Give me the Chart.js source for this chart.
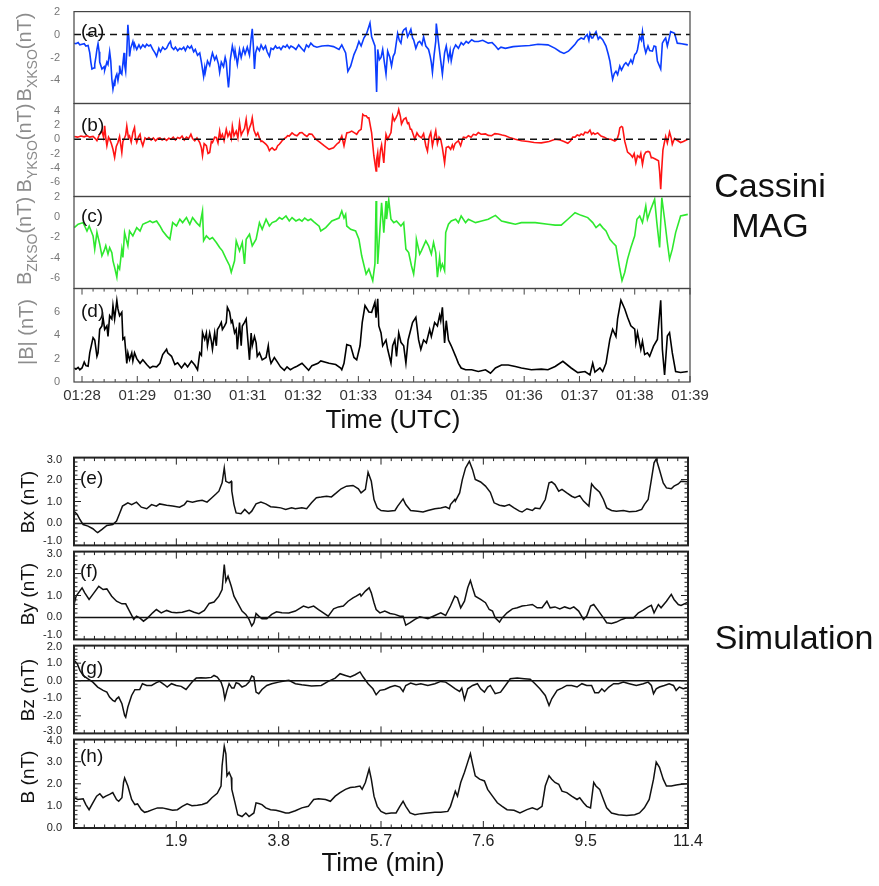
<!DOCTYPE html>
<html lang="en">
<head>
<meta charset="UTF-8">
<title>Cassini MAG vs Simulation</title>
<script src="https://cdn.jsdelivr.net/npm/chart.js@4.4.1/dist/chart.umd.js"></script>
<style>
  body { margin: 0; background: #fff; font-family: 'Liberation Sans', Arial, Helvetica, sans-serif; }
  #page { position: relative; width: 879px; height: 886px; overflow: hidden; }
  canvas { position: absolute; left: 0; }
  .lab { position: absolute; white-space: nowrap; line-height: 1; }
  .ylab { transform: translate(-50%, -50%) rotate(-90deg); font-size: 20px; }
  .ylab.top { color: #8c8c8c; }
  .ylab.sim { color: #111; font-size: 19px; }
  .ylab sub { font-size: 14px; vertical-align: -6px; line-height: 0; }
  .tag { font-size: 19px; color: #111; transform: translateY(-50%); }
  .big { font-size: 34px; color: #111; transform: translate(-50%, -50%); text-align: center; line-height: 40px; }
  .xt { font-size: 26px; color: #111; transform: translate(-50%, -50%); }
</style>
</head>
<body>
<div id="page">
  <canvas id="pa" width="720" height="112"></canvas>
  <canvas id="pb" width="720" height="113"></canvas>
  <canvas id="pc" width="720" height="112"></canvas>
  <canvas id="pd" width="720" height="143"></canvas>
  <canvas id="pe" width="720" height="108"></canvas>
  <canvas id="pf" width="720" height="108"></canvas>
  <canvas id="pg" width="720" height="108"></canvas>
  <canvas id="ph" width="720" height="138"></canvas>

  <div class="lab ylab top" style="left:24px;top:57px">B<sub>XKSO</sub>(nT)</div>
  <div class="lab ylab top" style="left:24px;top:148px">B<sub>YKSO</sub>(nT)</div>
  <div class="lab ylab top" style="left:24px;top:241px">B<sub>ZKSO</sub>(nT)</div>
  <div class="lab ylab top" style="left:26px;top:332px">|B| (nT)</div>
  <div class="lab ylab sim" style="left:27px;top:502px">Bx (nT)</div>
  <div class="lab ylab sim" style="left:27px;top:594px">By (nT)</div>
  <div class="lab ylab sim" style="left:27px;top:690px">Bz (nT)</div>
  <div class="lab ylab sim" style="left:27px;top:777px">B (nT)</div>

  <div class="lab tag" style="left:81px;top:30px">(a)</div>
  <div class="lab tag" style="left:81px;top:124px">(b)</div>
  <div class="lab tag" style="left:81px;top:215px">(c)</div>
  <div class="lab tag" style="left:81px;top:310px">(d)</div>
  <div class="lab tag" style="left:80px;top:477px">(e)</div>
  <div class="lab tag" style="left:80px;top:570px">(f)</div>
  <div class="lab tag" style="left:80px;top:667px">(g)</div>
  <div class="lab tag" style="left:80px;top:755px">(h)</div>

  <div class="lab big" style="left:770px;top:205px">Cassini<br>MAG</div>
  <div class="lab big" style="left:794px;top:637px">Simulation</div>
  <div class="lab xt" style="left:393px;top:419px">Time (UTC)</div>
  <div class="lab xt" style="left:383px;top:862px">Time (min)</div>
</div>

<script>
// Cassini MAG: time in minutes after 01:28 UTC, field in nT
const timeTicks = [0, 1, 2, 3, 4, 5, 6, 7, 8, 9, 10, 11];
const timeLabels = ['01:28', '01:29', '01:30', '01:31', '01:32', '01:33', '01:34', '01:35', '01:36', '01:37', '01:38', '01:39'];

const bxKso = [[-0.14,-0.75],[-0.11,-0.8],[-0.07,-0.7],[-0.04,-0.9],[0,-0.85],[0.04,-0.8],[0.07,-1.0],[0.11,-0.95],[0.14,-1.6],[0.16,-2.4],[0.18,-3.0],[0.22,-2.9],[0.23,-2.6],[0.25,-2.0],[0.27,-1.3],[0.29,-0.8],[0.31,-1.5],[0.32,-2.4],[0.36,-3.0],[0.40,-2.8],[0.41,-3.1],[0.45,-2.4],[0.47,-2.6],[0.50,-1.5],[0.52,-2.3],[0.54,-3.9],[0.56,-4.75],[0.58,-4.2],[0.59,-4.5],[0.61,-3.7],[0.63,-3.45],[0.65,-4.0],[0.67,-3.4],[0.68,-2.7],[0.70,-3.3],[0.72,-3.45],[0.74,-2.5],[0.76,-1.6],[0.77,-2.6],[0.79,-3.2],[0.81,-1.5],[0.83,0.85],[0.85,-0.5],[0.86,-1.9],[0.88,-1.2],[0.92,-0.6],[0.94,-1.1],[0.95,-0.8],[0.99,-1.3],[1.03,-0.9],[1.06,-1.2],[1.10,-0.9],[1.14,-1.1],[1.17,-0.85],[1.21,-1.0],[1.24,-0.9],[1.28,-1.3],[1.32,-1.6],[1.35,-1.9],[1.39,-1.2],[1.42,-1.5],[1.46,-1.1],[1.50,-1.3],[1.53,-1.2],[1.57,-0.8],[1.60,-0.6],[1.62,-1.1],[1.66,-1.3],[1.69,-1.1],[1.73,-1.4],[1.77,-1.2],[1.80,-1.3],[1.84,-1.1],[1.87,-1.4],[1.91,-1.0],[1.95,-1.2],[1.98,-1.0],[2.02,-1.5],[2.05,-1.3],[2.09,-1.8],[2.13,-1.6],[2.16,-2.4],[2.20,-3.65],[2.22,-2.9],[2.23,-3.3],[2.27,-2.3],[2.31,-2.7],[2.34,-2.0],[2.36,-1.6],[2.40,-2.2],[2.43,-1.9],[2.47,-2.6],[2.49,-3.3],[2.52,-2.4],[2.56,-2.8],[2.59,-2.0],[2.61,-2.4],[2.63,-3.6],[2.65,-4.6],[2.67,-3.5],[2.68,-2.3],[2.72,-1.0],[2.76,-1.9],[2.77,-1.4],[2.81,-2.6],[2.85,-1.3],[2.88,-2.0],[2.92,-1.2],[2.95,-1.7],[2.99,-1.1],[3.03,-1.8],[3.06,-0.3],[3.08,0.5],[3.10,-1.0],[3.12,-3.0],[3.14,-1.6],[3.17,-1.1],[3.21,-1.4],[3.24,-0.9],[3.28,-1.3],[3.32,-1.0],[3.35,-1.5],[3.39,-1.9],[3.42,-1.2],[3.46,-1.3],[3.50,-1.0],[3.53,-1.2],[3.57,-1.1],[3.60,-1.3],[3.64,-1.0],[3.68,-1.1],[3.71,-0.9],[3.75,-1.2],[3.78,-1.0],[3.82,-1.1],[3.87,-1.3],[3.92,-0.9],[3.97,-1.2],[4.02,-1.45],[4.06,-0.9],[4.10,-1.1],[4.14,-0.75],[4.19,-1.0],[4.25,-1.1],[4.34,-1.0],[4.45,-0.95],[4.55,-1.05],[4.65,-1.3],[4.70,-0.9],[4.77,-1.6],[4.81,-3.2],[4.86,-2.75],[4.92,-1.75],[4.97,-1.2],[5.01,-0.6],[5.05,-1.0],[5.10,-0.3],[5.15,0.1],[5.21,1.0],[5.24,-0.2],[5.30,-1.0],[5.33,-5.0],[5.35,-1.3],[5.38,-2.2],[5.41,-2.0],[5.44,-1.3],[5.47,-2.4],[5.50,-3.45],[5.53,-1.45],[5.57,-2.0],[5.60,-2.75],[5.63,-1.9],[5.66,-1.6],[5.71,0.1],[5.74,-0.5],[5.77,-0.75],[5.80,0.2],[5.82,0.4],[5.86,0.55],[5.89,-0.2],[5.92,0.1],[5.95,0.45],[5.98,-0.3],[6.00,-0.45],[6.04,-1.2],[6.08,-0.7],[6.11,-0.6],[6.15,-0.9],[6.18,-0.2],[6.22,-1.0],[6.27,-1.3],[6.30,-1.9],[6.32,-2.45],[6.34,-3.3],[6.37,-1.8],[6.40,-0.6],[6.41,0.95],[6.45,-0.7],[6.49,-2.3],[6.52,-3.45],[6.56,-1.6],[6.59,-1.0],[6.63,-2.2],[6.66,-1.4],[6.68,-2.3],[6.72,-1.3],[6.76,-0.9],[6.81,-1.2],[6.86,-0.7],[6.90,-0.9],[6.95,-0.6],[6.99,-0.75],[7.05,-0.45],[7.10,-0.6],[7.17,-0.6],[7.25,-0.5],[7.35,-0.75],[7.42,-0.7],[7.48,-1.0],[7.53,-1.3],[7.58,-1.1],[7.66,-1.2],[7.80,-1.05],[7.95,-1.0],[8.10,-0.95],[8.25,-0.85],[8.43,-0.9],[8.56,-1.2],[8.65,-1.5],[8.72,-1.65],[8.80,-1.45],[8.85,-1.2],[8.92,-0.85],[8.97,-0.5],[9.03,-0.3],[9.08,-0.4],[9.10,-0.2],[9.14,0.0],[9.17,-0.5],[9.19,0.1],[9.22,-0.3],[9.24,-0.3],[9.27,0.0],[9.30,0.25],[9.34,-0.4],[9.37,-0.2],[9.42,-0.45],[9.48,-1.0],[9.52,-1.7],[9.55,-2.3],[9.58,-3.3],[9.60,-3.9],[9.63,-3.4],[9.66,-3.2],[9.69,-3.5],[9.73,-2.75],[9.76,-3.1],[9.78,-2.9],[9.81,-2.6],[9.84,-2.45],[9.88,-2.7],[9.93,-2.2],[9.96,-2.5],[10.0,-1.75],[10.03,-1.6],[10.05,-1.3],[10.09,-0.2],[10.12,-0.5],[10.14,0.25],[10.17,-1.0],[10.20,-1.6],[10.24,-1.0],[10.27,-1.4],[10.32,-1.45],[10.35,-1.0],[10.38,-1.05],[10.41,-2.3],[10.47,-3.0],[10.50,-0.75],[10.53,-0.5],[10.56,-0.3],[10.59,-1.0],[10.62,-0.4],[10.65,0.25],[10.70,0.15],[10.72,0.1],[10.77,-0.75],[10.85,-0.8],[10.96,-0.9]];

const byKso = [[-0.14,0.4],[-0.08,0.3],[-0.02,0.45],[0.04,0.35],[0.09,0.5],[0.14,0.3],[0.2,0.4],[0.24,0.1],[0.27,-0.2],[0.31,0.6],[0.36,1.2],[0.39,0.3],[0.41,1.9],[0.43,0.2],[0.45,-0.9],[0.48,0.3],[0.50,0],[0.53,-0.6],[0.56,-1.4],[0.59,-2.55],[0.62,-1.0],[0.65,-0.45],[0.68,0.4],[0.72,-1.85],[0.74,-0.3],[0.76,0],[0.79,0.6],[0.81,1.85],[0.84,0.2],[0.86,0.45],[0.89,-0.4],[0.92,0.95],[0.95,1.65],[0.97,0.1],[0.99,-0.45],[1.02,0.3],[1.05,0.7],[1.07,-0.2],[1.10,-0.9],[1.14,0.2],[1.17,0],[1.21,0.25],[1.25,-0.1],[1.29,0.2],[1.33,-0.2],[1.37,0.1],[1.41,0.2],[1.45,-0.1],[1.49,0.1],[1.53,-0.15],[1.57,0.15],[1.61,0],[1.65,0.3],[1.69,-0.1],[1.73,0.25],[1.77,0.1],[1.81,0.45],[1.85,-0.1],[1.89,0.3],[1.93,0.1],[1.97,0.7],[2.0,0.1],[2.04,-0.2],[2.08,0.2],[2.13,-0.45],[2.16,-1.2],[2.18,-2.3],[2.21,-0.6],[2.25,-0.9],[2.28,-2.0],[2.31,-1.85],[2.34,-0.3],[2.36,-0.45],[2.40,0.3],[2.43,0.25],[2.46,-0.5],[2.49,1.15],[2.51,0.2],[2.54,0.7],[2.57,-0.2],[2.61,1.4],[2.64,0.4],[2.67,0.95],[2.70,0.1],[2.72,1.85],[2.75,0.5],[2.79,1.15],[2.82,0.2],[2.85,2.3],[2.88,0.6],[2.90,0.95],[2.94,1.5],[2.97,2.8],[3.0,0.8],[3.03,1.6],[3.06,2.2],[3.08,3.0],[3.11,1.3],[3.15,0.5],[3.18,0.9],[3.21,0.2],[3.24,-0.3],[3.26,-0.25],[3.30,-0.5],[3.33,-0.7],[3.36,-1.0],[3.39,-1.6],[3.42,-1.3],[3.44,-1.2],[3.48,-1.5],[3.51,-1.4],[3.54,-0.9],[3.57,-0.7],[3.60,-0.4],[3.62,-0.2],[3.66,0.1],[3.69,0.25],[3.72,0.5],[3.75,0.45],[3.80,0.9],[3.85,0.6],[3.89,0.5],[3.94,0.9],[3.98,0.95],[4.03,0.6],[4.07,0.4],[4.11,0.75],[4.16,0.7],[4.20,0.3],[4.23,0],[4.30,-0.4],[4.38,-0.9],[4.47,-1.4],[4.55,-1.2],[4.62,-0.6],[4.65,-0.45],[4.70,0.45],[4.74,-0.9],[4.79,0.9],[4.84,1.0],[4.88,1.15],[4.93,0.9],[4.97,0.7],[5.01,1.2],[5.05,1.4],[5.08,3.5],[5.11,3.3],[5.14,3.3],[5.17,3.0],[5.19,3.0],[5.24,0.9],[5.28,-2.3],[5.32,-4.45],[5.33,-2.8],[5.35,-1.9],[5.37,-3.95],[5.40,-1.5],[5.42,-0.8],[5.46,-3.3],[5.48,-1.0],[5.50,0.7],[5.53,0],[5.59,0.95],[5.62,3.3],[5.65,2.6],[5.68,3.0],[5.71,3.5],[5.73,4.15],[5.76,3.2],[5.78,2.15],[5.82,2.8],[5.86,3.0],[5.89,2.2],[5.91,2.3],[5.94,1.4],[5.96,1.4],[6.0,0.5],[6.02,0],[6.06,0.9],[6.09,0.5],[6.14,0.2],[6.18,0.8],[6.22,-0.9],[6.25,-1.65],[6.28,0.3],[6.31,0.95],[6.34,-0.9],[6.37,0.2],[6.40,1.2],[6.43,-0.6],[6.46,0.3],[6.49,0],[6.52,-1.2],[6.56,-3.3],[6.59,-1.15],[6.63,-1.0],[6.67,-1.4],[6.70,-0.8],[6.72,-1.3],[6.75,-0.6],[6.77,-0.45],[6.81,-0.2],[6.85,-0.9],[6.88,-0.1],[6.90,0.3],[6.95,0.2],[6.99,0.5],[7.04,0.3],[7.08,0.7],[7.13,0.6],[7.17,0.95],[7.22,0.7],[7.30,0.75],[7.35,0.55],[7.41,0.5],[7.47,0.8],[7.53,0.75],[7.60,0.6],[7.66,0.5],[7.75,0.2],[7.84,0],[7.95,-0.2],[8.07,-0.3],[8.18,-0.45],[8.31,-0.5],[8.45,-0.3],[8.56,0],[8.65,-0.1],[8.72,-0.3],[8.79,-0.55],[8.84,-0.2],[8.88,0.3],[8.92,0.3],[8.96,0.6],[9.0,0.5],[9.03,0.75],[9.07,0.6],[9.10,1.0],[9.15,0.9],[9.19,1.3],[9.22,0.7],[9.25,0.9],[9.28,0.7],[9.33,0.9],[9.39,0.45],[9.45,0.3],[9.51,0],[9.57,0],[9.64,-0.25],[9.68,0],[9.71,0.7],[9.73,1.6],[9.76,1.8],[9.78,1.7],[9.82,-0.3],[9.87,-1.8],[9.92,-2.1],[9.96,-2.5],[9.99,-2.0],[10.02,-3.3],[10.05,-2.3],[10.09,-2.55],[10.11,-2.0],[10.14,-3.5],[10.17,-2.2],[10.20,-1.8],[10.24,-1.7],[10.27,-1.8],[10.30,-2.6],[10.32,-2.55],[10.38,-2.8],[10.43,-3.0],[10.45,-4.5],[10.47,-7.0],[10.49,-4.0],[10.51,-1.5],[10.53,-0.7],[10.56,0.4],[10.59,-0.5],[10.63,1.0],[10.66,0.2],[10.68,-0.7],[10.72,0.1],[10.74,0],[10.78,-0.2],[10.83,-0.45],[10.88,-0.3],[10.96,0]];

const bzKso = [[-0.14,-1.04],[-0.07,-0.7],[0.02,-0.55],[0.09,-1.37],[0.13,-0.88],[0.2,-1.85],[0.23,-3.15],[0.27,-1.5],[0.32,-2.66],[0.36,-3.8],[0.40,-3.3],[0.43,-2.8],[0.47,-3.64],[0.50,-3.0],[0.54,-3.5],[0.56,-4.3],[0.59,-4.94],[0.63,-5.91],[0.65,-4.78],[0.68,-5.1],[0.72,-3.15],[0.74,-3.96],[0.77,-1.53],[0.83,-2.83],[0.86,-1.37],[0.92,-1.85],[0.99,-1.04],[1.05,-1.37],[1.10,-0.71],[1.17,-0.55],[1.23,-0.39],[1.28,-0.55],[1.35,-0.39],[1.41,-0.88],[1.46,-1.37],[1.53,-1.85],[1.59,-2.18],[1.64,-0.55],[1.71,-0.88],[1.77,-0.22],[1.82,-0.55],[1.89,-0.06],[1.95,-0.71],[2.0,-0.06],[2.07,-0.55],[2.13,-0.88],[2.18,0.59],[2.20,-2.33],[2.25,-1.85],[2.31,-2.18],[2.36,-2.01],[2.43,-2.5],[2.49,-2.99],[2.54,-3.32],[2.61,-4.13],[2.67,-4.78],[2.70,-5.42],[2.76,-4.29],[2.79,-2.34],[2.85,-3.32],[2.90,-2.5],[2.94,-4.61],[2.97,-2.18],[3.03,-1.69],[3.08,-2.83],[3.15,-2.18],[3.21,-0.55],[3.26,-1.2],[3.33,-0.22],[3.39,-0.88],[3.44,-0.55],[3.51,-0.39],[3.57,-0.06],[3.62,-0.22],[3.69,0.1],[3.75,-0.39],[3.80,-0.06],[3.87,-0.39],[3.93,-0.22],[3.98,-0.4],[4.03,-0.1],[4.09,-0.35],[4.14,-0.2],[4.19,-0.45],[4.29,-0.9],[4.32,-1.37],[4.41,-1.04],[4.52,-0.39],[4.65,-0.1],[4.70,0.59],[4.74,-0.1],[4.77,0.26],[4.79,-0.88],[4.86,-1.2],[4.95,-1.37],[5.01,-2.18],[5.06,-3.8],[5.14,-5.6],[5.19,-5.1],[5.23,-5.75],[5.26,-6.24],[5.30,-4.6],[5.32,1.56],[5.33,-0.55],[5.35,-4.6],[5.39,-1.2],[5.42,1.4],[5.46,-1.53],[5.50,1.56],[5.51,-0.2],[5.55,1.66],[5.59,-0.22],[5.64,-0.55],[5.69,-0.39],[5.77,-0.88],[5.82,-0.55],[5.86,-3.15],[5.91,-3.48],[5.96,-4.78],[6.0,-5.59],[6.04,-3.8],[6.05,-2.18],[6.11,-3.64],[6.14,-3.32],[6.22,-2.34],[6.27,-2.83],[6.32,-3.64],[6.36,-2.5],[6.40,-3.48],[6.43,-5.91],[6.47,-3.96],[6.49,-5.1],[6.52,-4.61],[6.56,-5.27],[6.58,-1.53],[6.63,-0.71],[6.68,-0.39],[6.76,-0.22],[6.81,-0.55],[6.86,0.1],[6.94,-0.55],[6.99,-0.22],[7.12,-0.55],[7.23,-0.39],[7.35,-0.22],[7.48,0.16],[7.59,-0.39],[7.71,-0.55],[7.84,-0.71],[7.95,-0.55],[8.20,-0.55],[8.43,-0.71],[8.56,-0.8],[8.67,-0.8],[8.79,-0.22],[8.92,0.42],[9.03,0.16],[9.15,-0.06],[9.24,-0.55],[9.30,-1.04],[9.37,-0.71],[9.42,-1.04],[9.48,-1.37],[9.55,-2.18],[9.60,-2.5],[9.66,-2.83],[9.73,-5.1],[9.77,-6.24],[9.82,-5.42],[9.87,-4.13],[9.93,-2.99],[10.0,-1.85],[10.04,-0.22],[10.09,0.1],[10.14,-0.55],[10.20,1.07],[10.23,-0.22],[10.29,0.75],[10.36,1.73],[10.40,-0.55],[10.45,-2.99],[10.49,1.89],[10.54,-0.22],[10.59,-2.5],[10.63,-4.13],[10.68,-3.15],[10.74,-1.53],[10.83,0.1],[10.96,0.26]];

const bMag = [[-0.14,1.2],[-0.11,1.1],[-0.07,1.25],[-0.04,1.05],[0,1.2],[0.04,1.7],[0.07,1.4],[0.11,1.35],[0.14,2.49],[0.2,3.8],[0.23,3.6],[0.27,2.2],[0.29,2.5],[0.32,4.52],[0.36,4.8],[0.38,5.54],[0.41,4.5],[0.45,4.8],[0.47,3.9],[0.50,5.68],[0.54,5.4],[0.56,6.55],[0.59,5.4],[0.63,6.99],[0.65,6.26],[0.68,5.68],[0.72,5.97],[0.74,3.65],[0.77,3.8],[0.81,1.6],[0.83,2.5],[0.86,1.9],[0.90,2.5],[0.92,1.8],[0.95,2.5],[0.99,2.0],[1.05,1.6],[1.10,1.9],[1.17,1.5],[1.23,1.2],[1.28,1.35],[1.35,1.3],[1.41,1.6],[1.46,2.35],[1.53,2.8],[1.55,2.5],[1.62,2.2],[1.68,1.5],[1.73,1.65],[1.80,1.2],[1.86,1.6],[1.91,1.3],[1.98,1.8],[2.04,1.45],[2.09,1.05],[2.13,2.5],[2.16,2.3],[2.18,4.25],[2.22,3.65],[2.25,4.2],[2.27,3.1],[2.31,4.2],[2.34,3.5],[2.36,2.8],[2.40,4.2],[2.43,3.1],[2.45,4.5],[2.49,4.8],[2.52,5.1],[2.54,4.5],[2.58,4.8],[2.61,5.1],[2.63,6.4],[2.67,6.0],[2.70,5.1],[2.72,5.25],[2.76,4.2],[2.79,4.5],[2.81,2.8],[2.85,5.1],[2.88,3.1],[2.90,4.8],[2.94,5.1],[2.97,5.4],[2.99,4.2],[3.03,1.9],[3.06,4.2],[3.08,3.1],[3.12,3.9],[3.15,3.35],[3.17,2.2],[3.21,2.5],[3.26,1.9],[3.33,2.1],[3.37,3.1],[3.39,2.2],[3.42,1.6],[3.48,2.1],[3.53,1.75],[3.59,1.3],[3.66,1.0],[3.71,1.3],[3.77,1.05],[3.84,1.25],[3.89,1.35],[3.98,1.6],[4.10,1.0],[4.16,1.4],[4.27,1.6],[4.32,1.8],[4.47,1.6],[4.59,1.5],[4.68,1.2],[4.70,1.05],[4.74,1.6],[4.79,3.2],[4.86,3.1],[4.92,2.1],[4.97,1.9],[5.03,3.1],[5.07,5.1],[5.12,6.55],[5.19,6.0],[5.24,5.97],[5.30,6.84],[5.32,5.5],[5.35,7.13],[5.37,4.8],[5.41,4.2],[5.44,3.1],[5.50,3.6],[5.53,2.8],[5.59,1.62],[5.62,3.1],[5.66,3.6],[5.69,2.2],[5.73,4.2],[5.77,3.4],[5.82,3.1],[5.86,1.62],[5.90,3.6],[5.98,5.1],[6.04,5.54],[6.09,3.6],[6.13,2.8],[6.18,3.6],[6.23,3.35],[6.29,4.5],[6.32,3.9],[6.38,5.1],[6.43,4.8],[6.47,5.7],[6.49,5.25],[6.52,6.4],[6.56,3.35],[6.59,5.25],[6.63,3.6],[6.68,3.1],[6.76,2.2],[6.81,1.6],[6.86,1.2],[6.94,1.05],[7.05,1.05],[7.17,0.9],[7.30,1.05],[7.39,0.75],[7.48,1.2],[7.59,1.45],[7.71,1.45],[7.84,1.33],[7.95,1.2],[8.13,1.05],[8.31,1.1],[8.43,1.05],[8.56,1.33],[8.70,1.77],[8.85,1.2],[8.97,0.8],[9.10,0.9],[9.19,0.6],[9.24,1.62],[9.28,0.85],[9.37,1.2],[9.42,0.9],[9.48,1.6],[9.55,3.65],[9.60,4.52],[9.66,3.9],[9.69,5.4],[9.75,7.0],[9.82,6.26],[9.87,5.54],[9.93,4.81],[10.0,4.52],[10.02,3.36],[10.05,4.23],[10.11,2.78],[10.14,3.5],[10.18,2.35],[10.23,2.49],[10.27,2.2],[10.34,3.07],[10.41,3.65],[10.47,7.0],[10.50,2.8],[10.54,0.6],[10.59,3.94],[10.63,4.23],[10.68,2.49],[10.74,0.9],[10.83,0.81],[10.96,0.9]];

// Simulation: time in minutes, field in nT
const simTicks = [1.9, 3.8, 5.7, 7.6, 9.5, 11.4];
const simLabels = ['1.9', '3.8', '5.7', '7.6', '9.5', '11.4'];

const simBx = [[0,0.56],[0.06,0.41],[0.11,0.18],[0.17,-0.05],[0.26,-0.12],[0.35,-0.24],[0.42,-0.39],[0.44,-0.42],[0.52,-0.27],[0.61,-0.09],[0.72,-0.05],[0.79,0.11],[0.85,0.48],[0.9,0.79],[1.0,0.94],[1.07,0.86],[1.16,0.97],[1.25,0.74],[1.35,0.67],[1.44,0.86],[1.53,0.79],[1.59,0.89],[1.72,0.83],[1.83,0.79],[1.96,0.74],[2.05,0.86],[2.1,1.02],[2.2,0.97],[2.29,1.02],[2.38,1.06],[2.47,0.97],[2.56,1.17],[2.64,1.35],[2.69,1.47],[2.75,1.85],[2.79,2.53],[2.82,1.92],[2.88,1.85],[2.92,1.92],[2.93,1.47],[2.97,0.86],[3.01,0.48],[3.1,0.44],[3.17,0.64],[3.25,0.44],[3.3,0.56],[3.38,0.89],[3.47,0.97],[3.56,0.89],[3.65,0.76],[3.75,0.74],[3.84,0.71],[3.93,0.64],[4.04,0.71],[4.11,0.67],[4.23,0.71],[4.32,0.67],[4.41,0.94],[4.5,1.17],[4.59,1.2],[4.69,1.24],[4.78,1.21],[4.87,1.39],[4.96,1.58],[5.06,1.7],[5.18,1.73],[5.28,1.58],[5.33,1.39],[5.41,1.55],[5.46,2.33],[5.52,1.92],[5.57,1.09],[5.63,0.71],[5.7,0.59],[5.83,0.56],[5.96,0.59],[6.01,0.79],[6.11,1.12],[6.16,0.86],[6.25,0.59],[6.38,0.56],[6.48,0.52],[6.57,0.59],[6.7,0.67],[6.81,0.7],[6.9,0.76],[6.97,0.67],[6.99,0.86],[7.07,1.09],[7.08,1.02],[7.16,1.39],[7.21,2.0],[7.27,2.53],[7.34,2.83],[7.4,2.45],[7.45,2.0],[7.55,1.89],[7.64,1.7],[7.73,1.42],[7.8,0.94],[7.9,0.83],[7.99,0.79],[8.08,0.86],[8.17,0.71],[8.27,0.56],[8.32,0.52],[8.41,0.67],[8.51,0.59],[8.56,0.7],[8.65,0.67],[8.75,1.09],[8.82,1.85],[8.87,1.89],[8.93,1.77],[9.0,1.47],[9.06,1.55],[9.15,1.39],[9.24,1.24],[9.3,1.17],[9.39,1.27],[9.46,1.02],[9.56,0.79],[9.61,1.8],[9.67,1.62],[9.76,1.42],[9.83,1.09],[9.89,0.71],[9.98,0.59],[10.07,0.56],[10.2,0.59],[10.31,0.53],[10.44,0.56],[10.54,0.64],[10.59,0.86],[10.66,1.09],[10.72,2.0],[10.77,2.76],[10.81,2.94],[10.87,2.45],[10.94,1.85],[11.0,1.62],[11.09,1.58],[11.14,1.7],[11.22,1.8],[11.27,1.92],[11.4,1.9]];

const simBy = [[0,0.59],[0.04,0.97],[0.15,1.35],[0.2,1.12],[0.28,0.82],[0.35,1.05],[0.46,1.42],[0.54,1.27],[0.61,1.3],[0.7,0.97],[0.79,0.74],[0.89,0.62],[0.96,0.62],[1.03,0.29],[1.11,-0.09],[1.16,0.06],[1.22,-0.02],[1.29,-0.17],[1.37,-0.02],[1.46,0.21],[1.53,0.36],[1.62,0.21],[1.72,0.32],[1.81,0.24],[1.9,0.21],[2.01,0.24],[2.14,0.33],[2.23,0.24],[2.32,0.17],[2.42,0.32],[2.51,0.64],[2.6,0.7],[2.69,0.97],[2.75,1.27],[2.79,2.41],[2.82,1.65],[2.86,1.88],[2.92,1.42],[2.97,0.97],[3.03,0.7],[3.12,0.29],[3.19,0.14],[3.25,-0.09],[3.3,-0.39],[3.34,-0.24],[3.38,0.18],[3.43,0.06],[3.49,-0.06],[3.58,-0.06],[3.67,0.14],[3.76,0.26],[3.86,0.21],[3.99,0.2],[4.11,0.29],[4.26,0.52],[4.35,0.44],[4.45,0.52],[4.54,0.36],[4.63,0.21],[4.72,0.06],[4.82,0.39],[4.91,0.48],[5.0,0.52],[5.09,0.74],[5.18,0.89],[5.24,0.97],[5.31,1.08],[5.33,0.97],[5.41,1.2],[5.48,1.35],[5.52,1.12],[5.57,0.67],[5.61,0.36],[5.68,0.21],[5.77,0.29],[5.87,0.18],[5.96,0.14],[6.05,0.06],[6.11,0.06],[6.16,-0.35],[6.24,-0.24],[6.33,-0.09],[6.42,0.03],[6.51,-0.02],[6.57,-0.06],[6.7,0.09],[6.81,0.21],[6.9,0.09],[6.99,0.52],[7.07,0.97],[7.12,0.89],[7.18,0.44],[7.25,0.74],[7.31,1.35],[7.36,1.68],[7.4,1.35],[7.45,0.97],[7.55,0.82],[7.64,0.67],[7.71,0.36],[7.77,0.29],[7.82,-0.02],[7.9,-0.21],[7.95,-0.02],[8.04,0.21],[8.14,0.39],[8.23,0.44],[8.32,0.52],[8.41,0.55],[8.51,0.59],[8.6,0.44],[8.69,0.44],[8.78,0.74],[8.84,0.44],[8.93,0.48],[9.02,0.39],[9.11,0.48],[9.21,0.4],[9.28,0.48],[9.37,0.29],[9.46,-0.09],[9.52,0.06],[9.59,0.52],[9.65,0.59],[9.74,0.29],[9.83,-0.02],[9.89,-0.24],[9.98,-0.27],[10.07,-0.21],[10.17,-0.09],[10.26,-0.02],[10.39,-0.02],[10.48,0.21],[10.57,0.33],[10.66,0.48],[10.72,0.55],[10.77,0.21],[10.85,0.59],[10.9,0.44],[11.0,0.74],[11.09,1.05],[11.14,0.82],[11.22,0.59],[11.27,0.55],[11.4,0.7]];

const simBz = [[0,1.16],[0.06,0.97],[0.11,0.59],[0.17,0.3],[0.26,0.11],[0.35,-0.08],[0.44,-0.36],[0.54,-0.55],[0.61,-0.65],[0.66,-0.93],[0.72,-1.12],[0.76,-1.18],[0.79,-1.03],[0.83,-0.93],[0.89,-1.31],[0.94,-1.98],[0.96,-2.08],[1.0,-1.5],[1.07,-0.84],[1.13,-0.51],[1.22,-0.5],[1.27,-0.17],[1.35,-0.27],[1.44,-0.27],[1.53,-0.11],[1.59,-0.04],[1.68,-0.23],[1.73,-0.36],[1.81,-0.17],[1.9,-0.27],[1.99,-0.32],[2.08,-0.5],[2.14,-0.27],[2.2,-0.04],[2.27,0.15],[2.36,0.17],[2.45,0.15],[2.55,0.19],[2.6,0.3],[2.66,0.21],[2.73,-0.08],[2.77,-0.46],[2.8,-1.03],[2.84,-0.55],[2.88,-0.17],[2.93,-0.42],[2.97,-0.42],[3.01,-0.11],[3.06,-0.17],[3.12,-0.36],[3.19,-0.27],[3.25,-0.08],[3.3,0.27],[3.34,0.21],[3.38,-0.65],[3.43,-0.74],[3.49,-0.5],[3.58,-0.27],[3.67,-0.17],[3.8,-0.08],[3.93,0.0],[3.99,0.02],[4.11,-0.17],[4.23,-0.23],[4.41,-0.3],[4.59,-0.27],[4.72,-0.04],[4.85,0.15],[4.94,0.4],[5.04,0.3],[5.13,0.21],[5.22,0.34],[5.31,0.5],[5.37,0.21],[5.46,-0.17],[5.55,-0.46],[5.61,-0.8],[5.68,-0.55],[5.77,-0.5],[5.87,-0.36],[5.96,-0.27],[6.05,-0.36],[6.11,-0.61],[6.16,-0.27],[6.25,-0.13],[6.35,-0.23],[6.44,-0.17],[6.57,-0.27],[6.7,-0.17],[6.81,-0.04],[6.9,-0.08],[6.99,-0.27],[7.08,-0.46],[7.16,-0.61],[7.2,-0.42],[7.25,-1.07],[7.31,-0.46],[7.4,-0.27],[7.49,-0.17],[7.55,-0.46],[7.62,-0.65],[7.68,-0.36],[7.73,-0.27],[7.82,-0.74],[7.92,-0.65],[8.01,-0.27],[8.1,0.11],[8.23,0.15],[8.36,0.11],[8.47,0.08],[8.56,-0.17],[8.65,-0.46],[8.75,-0.84],[8.82,-1.41],[8.87,-1.03],[8.97,-0.55],[9.06,-0.42],[9.15,-0.27],[9.24,-0.27],[9.34,-0.36],[9.43,-0.17],[9.52,-0.27],[9.61,-0.27],[9.67,-0.69],[9.74,-0.69],[9.8,-0.46],[9.85,-0.61],[9.93,-0.36],[10.02,-0.17],[10.11,-0.17],[10.2,-0.08],[10.31,-0.17],[10.44,-0.27],[10.57,-0.17],[10.66,-0.08],[10.72,-0.27],[10.76,-0.74],[10.81,-0.46],[10.87,-0.36],[10.96,-0.27],[11.05,-0.17],[11.13,-0.27],[11.18,-0.55],[11.24,-0.36],[11.31,-0.46],[11.4,-0.4]];

const simB = [[0,1.37],[0.07,1.29],[0.17,1.32],[0.22,1.06],[0.28,0.83],[0.35,1.14],[0.42,1.44],[0.48,1.55],[0.54,1.37],[0.59,1.44],[0.66,1.52],[0.72,1.6],[0.79,1.29],[0.83,1.21],[0.89,1.37],[0.92,2.06],[0.94,2.26],[1.0,1.9],[1.07,1.29],[1.13,1.06],[1.18,1.09],[1.25,0.83],[1.31,0.71],[1.37,0.75],[1.46,0.83],[1.55,0.91],[1.64,0.91],[1.73,0.86],[1.83,0.8],[1.92,0.83],[2.01,0.98],[2.1,1.09],[2.19,1.01],[2.29,1.03],[2.38,1.06],[2.47,1.14],[2.56,1.37],[2.66,1.57],[2.73,1.9],[2.75,2.83],[2.79,3.7],[2.82,3.36],[2.84,2.36],[2.88,2.52],[2.92,2.29],[2.93,1.75],[2.99,1.14],[3.04,0.6],[3.12,0.52],[3.19,0.68],[3.25,0.52],[3.34,0.68],[3.38,1.14],[3.43,1.11],[3.49,1.06],[3.56,0.91],[3.65,0.83],[3.75,0.8],[3.84,0.75],[3.93,0.68],[3.99,0.68],[4.11,0.78],[4.23,0.91],[4.35,0.98],[4.45,1.29],[4.54,1.32],[4.67,1.29],[4.76,1.21],[4.85,1.44],[4.94,1.6],[5.04,1.75],[5.13,1.83],[5.22,1.86],[5.31,1.9],[5.35,1.75],[5.41,2.06],[5.48,2.67],[5.52,2.21],[5.57,1.44],[5.63,0.98],[5.7,0.75],[5.79,0.65],[5.89,0.68],[5.98,0.68],[6.05,0.98],[6.11,1.21],[6.16,0.98],[6.24,0.68],[6.33,0.6],[6.44,0.65],[6.57,0.68],[6.7,0.71],[6.81,0.71],[6.94,0.75],[6.99,0.98],[7.05,1.44],[7.08,1.67],[7.12,1.44],[7.18,2.06],[7.25,2.52],[7.31,2.98],[7.36,3.36],[7.4,2.9],[7.45,2.36],[7.53,2.21],[7.62,2.13],[7.68,1.75],[7.77,1.44],[7.86,1.14],[7.95,0.98],[8.04,0.83],[8.17,0.8],[8.28,0.68],[8.41,0.83],[8.51,0.91],[8.6,0.83],[8.69,0.98],[8.75,1.9],[8.82,2.36],[8.87,2.21],[8.93,2.06],[9.0,1.98],[9.06,1.67],[9.15,1.6],[9.24,1.44],[9.34,1.29],[9.39,1.37],[9.46,1.14],[9.52,0.98],[9.59,0.91],[9.65,2.06],[9.69,1.9],[9.76,1.75],[9.83,1.29],[9.89,0.91],[9.98,0.68],[10.11,0.6],[10.26,0.57],[10.41,0.6],[10.5,0.68],[10.59,0.91],[10.68,1.29],[10.76,2.21],[10.81,2.98],[10.87,2.75],[10.94,2.21],[11.0,1.9],[11.09,1.9],[11.18,1.95],[11.27,1.98],[11.4,2.0]];

const FONT = "'Liberation Sans', Arial, Helvetica, sans-serif";

// frame box + inward ticks, positioned through the chart's own scales
const frameTicks = {
    id: 'frameTicks',
    afterDatasetsDraw(chart, args, o) {
        const { ctx, chartArea: a, scales: { x, y } } = chart;
        ctx.save();
        ctx.strokeStyle = o.color;
        ctx.lineWidth = o.tickWidth;
        const line = (x0, y0, x1, y1) => { ctx.beginPath(); ctx.moveTo(x0, y0); ctx.lineTo(x1, y1); ctx.stroke(); };
        if (o.xStep) {
            const n = Math.round((x.max - o.xFrom) / o.xStep);
            for (let i = 0; i <= n; i++) {
                const v = o.xFrom + i * o.xStep;
                if (v < x.min - 1e-6 || v > x.max + 1e-6) continue;
                const px = x.getPixelForValue(v);
                const len = i % o.xEvery === 0 ? o.major : o.minor;
                line(px, a.top, px, a.top + len);
                line(px, a.bottom, px, a.bottom - len);
            }
        }
        if (o.yStep) {
            const n = Math.round((y.max - y.min) / o.yStep);
            for (let i = 0; i <= n; i++) {
                const py = y.getPixelForValue(y.min + i * o.yStep);
                const len = i % o.yEvery === 0 ? o.major : o.minor;
                line(a.left, py, a.left + len, py);
                line(a.right, py, a.right - len, py);
            }
        }
        ctx.lineWidth = o.width;
        ctx.strokeRect(a.left, a.top, a.right - a.left, a.bottom - a.top);
        ctx.restore();
    }
};

function makeConfig(o) {
    const zero = o.zero ? [{
        data: [{ x: o.xMin, y: 0 }, { x: o.xMax, y: 0 }],
        borderColor: '#111', borderWidth: 1.5,
        borderDash: o.zero === 'dash' ? [7, 5] : [],
        pointRadius: 0
    }] : [];
    const showX = !!o.xTicks;
    const edge = o.edge || [0, 0];   // pull the end labels inward a little (value units)
    return {
        type: 'line',
        data: {
            datasets: [...zero, {
                data: o.pts.map(([x, y]) => ({ x, y })),
                borderColor: o.color, borderWidth: o.lw,
                pointRadius: 0, tension: 0
            }]
        },
        options: {
            responsive: false,
            animation: false,
            devicePixelRatio: 1,
            layout: { padding: { top: 10, bottom: 10, left: 0, right: o.padRight } },
            plugins: { legend: { display: false }, tooltip: { enabled: false }, frameTicks: o.frame },
            scales: {
                x: {
                    type: 'linear', min: o.xMin, max: o.xMax,
                    display: showX,
                    grid: { display: false }, border: { display: false },
                    afterBuildTicks: s => { s.ticks = (o.xTicks || []).map(v => ({ value: v })); },
                    afterFit: s => { if (showX) s.height = 30; },
                    ticks: {
                        autoSkip: false, maxRotation: 0, padding: o.xPad,
                        color: o.xColor, font: { family: FONT, size: o.xSize },
                        callback: (v, i) => o.xLabels[i]
                    }
                },
                y: {
                    type: 'linear', min: o.yMin, max: o.yMax,
                    grid: { display: false }, border: { display: false },
                    afterBuildTicks: s => {
                        s.ticks = o.yTicks.map(v => ({
                            value: v === o.yMax ? v - edge[0] : v === o.yMin ? v + edge[1] : v
                        }));
                    },
                    afterFit: s => { s.width = 74; },
                    ticks: {
                        autoSkip: false, padding: o.yPad, color: o.yColor,
                        font: { family: FONT, size: 11 },
                        callback: (v, i) => o.yFmt(o.yTicks[i])
                    }
                }
            }
        },
        plugins: [frameTicks]
    };
}

// build a panel, then size/shift its canvas so the plot box lands on [top, bottom]
function panel(id, top, bottom, o) {
    const canvas = document.getElementById(id);
    let chart = new Chart(canvas, makeConfig(o));
    const a = chart.chartArea;
    const diff = Math.round((bottom - top) - (a.bottom - a.top));
    if (diff !== 0) {
        const h = canvas.height + diff;
        chart.destroy();
        canvas.height = h;
        chart = new Chart(canvas, makeConfig(o));
    }
    canvas.style.top = Math.round(top - chart.chartArea.top) + 'px';
    return chart;
}

const topFrame = { color: '#444', width: 1.2, tickWidth: 1 };
const topBase = {
    xMin: -0.145, xMax: 11, padRight: 30, lw: 1.6,
    yPad: 6, yColor: '#777', yFmt: v => String(v),
    xPad: -3, xColor: '#333', xSize: 15, frame: topFrame
};
panel('pa', 12, 104, { ...topBase, pts: bxKso, color: '#0b3dff', zero: 'dash', yMin: -6, yMax: 2, yTicks: [2, 0, -2, -4] });
panel('pb', 104, 197, { ...topBase, pts: byKso, color: '#ff1414', zero: 'dash', yMin: -8, yMax: 5, yTicks: [4, 2, 0, -2, -4, -6] });
panel('pc', 197, 289, { ...topBase, pts: bzKso, color: '#2ee82e', yMin: -7, yMax: 2, yTicks: [2, 0, -2, -4, -6] });
panel('pd', 289, 382, { ...topBase, pts: bMag, color: '#000', yMin: 0, yMax: 8, yTicks: [0, 2, 4, 6],
    xTicks: timeTicks, xLabels: timeLabels,
    frame: { ...topFrame, xFrom: 0, xStep: 0.2, xEvery: 5, major: 6, minor: 3 } });

const simFrame = { color: '#222', width: 2, tickWidth: 1, xFrom: 0, xStep: 0.19, xEvery: 10, yStep: 0.2, yEvery: 5, major: 7, minor: 3.5 };
const simBase = {
    xMin: 0, xMax: 11.4, padRight: 32, lw: 1.5, color: '#111',
    yPad: 4, yColor: '#222', yFmt: v => v.toFixed(1),
    xPad: -4, xColor: '#222', xSize: 16, frame: simFrame
};
panel('pe', 458, 546, { ...simBase, pts: simBx, zero: 'solid', yMin: -1, yMax: 3, yTicks: [3, 2, 1, 0, -1], edge: [0.09, 0.18] });
panel('pf', 552, 640, { ...simBase, pts: simBy, zero: 'solid', yMin: -1, yMax: 3, yTicks: [3, 2, 1, 0, -1], edge: [0.09, 0.18] });
panel('pg', 646, 734, { ...simBase, pts: simBz, zero: 'solid', yMin: -3, yMax: 2, yTicks: [2, 1, 0, -1, -2, -3], edge: [0.06, 0.14] });
panel('ph', 740, 828, { ...simBase, pts: simB, yMin: 0, yMax: 4, yTicks: [4, 3, 2, 1, 0], edge: [0.05, 0],
    xTicks: simTicks, xLabels: simLabels });
</script>
</body>
</html>
